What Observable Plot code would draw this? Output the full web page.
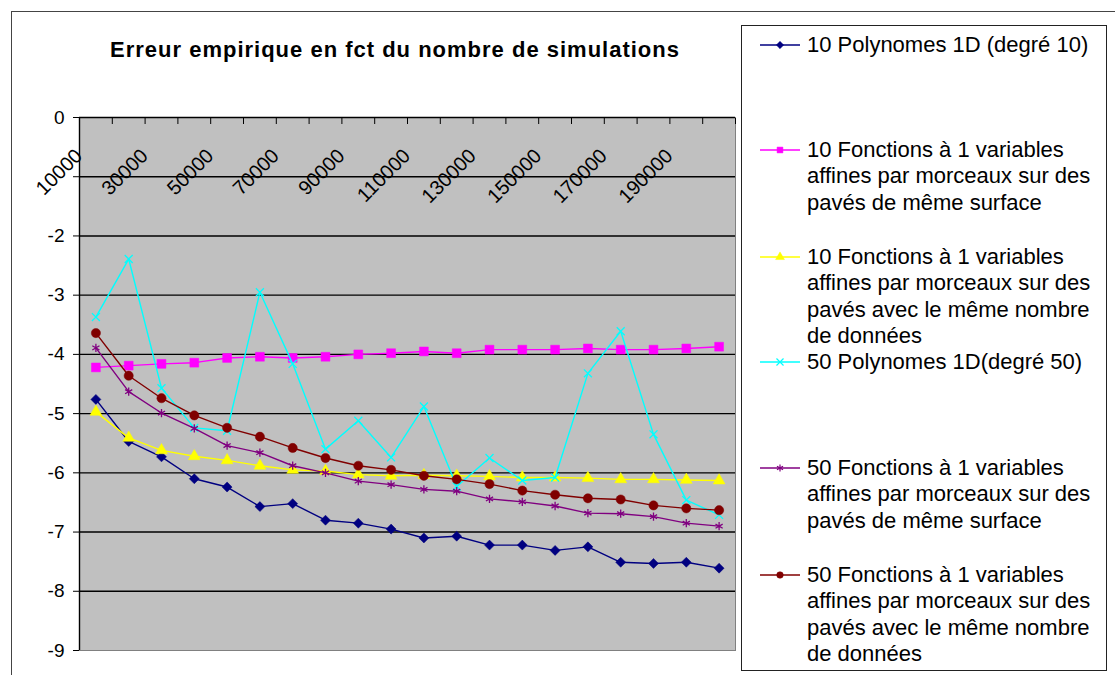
<!DOCTYPE html>
<html><head><meta charset="utf-8">
<script src="https://cdn.jsdelivr.net/npm/d3@7"></script>
<script src="https://cdn.jsdelivr.net/npm/@observablehq/plot@0.6"></script>
<style>
body{margin:0;background:#fff;font-family:"Liberation Sans",Arial,sans-serif;}
#wrap{position:relative;width:1115px;height:675px;overflow:hidden;background:#fff;}
#frame{position:absolute;left:11px;top:11px;width:1200px;height:800px;border:1.5px solid #444;}
#chart{position:absolute;left:0;top:0;}
#title{position:absolute;left:0;width:790px;top:37px;text-align:center;font-weight:bold;font-size:22px;letter-spacing:1px;color:#000;}
#legend{position:absolute;left:741px;top:25px;width:364px;height:644px;border:1.5px solid #222;background:#fff;}
.sw{position:absolute;left:16px;}
.lt{position:absolute;left:65px;font-size:22px;line-height:26.5px;white-space:nowrap;color:#000;}
</style></head>
<body>
<div id="wrap">
  <div id="frame"></div>
  <div id="chart"></div>
  <div id="title">Erreur empirique en fct du nombre de simulations</div>
  <div id="legend"></div>
</div>
<script>
const simulations = [10000, 20000, 30000, 40000, 50000, 60000, 70000, 80000, 90000, 100000,
  110000, 120000, 130000, 140000, 150000, 160000, 170000, 180000, 190000, 200000];
const xTickLabels = [10000, 30000, 50000, 70000, 90000, 110000, 130000, 150000, 170000, 190000];
const yTicks = [0, -1, -2, -3, -4, -5, -6, -7, -8, -9];

const poly10 = [-4.76,-5.47,-5.73,-6.10,-6.24,-6.57,-6.52,-6.80,-6.85,-6.95,-7.10,-7.07,-7.22,-7.22,-7.31,-7.25,-7.51,-7.53,-7.51,-7.61];
const fonc10Surface = [-4.22,-4.19,-4.16,-4.14,-4.06,-4.04,-4.06,-4.04,-4.00,-3.98,-3.95,-3.98,-3.92,-3.92,-3.92,-3.90,-3.92,-3.92,-3.90,-3.87];
const fonc10Donnees = [-4.97,-5.41,-5.62,-5.72,-5.79,-5.88,-5.95,-5.97,-6.03,-6.05,-6.04,-6.05,-6.06,-6.08,-6.08,-6.09,-6.11,-6.11,-6.12,-6.13];
const poly50 = [-3.37,-2.39,-4.57,-5.24,-5.29,-2.95,-4.16,-5.60,-5.12,-5.74,-4.88,-6.23,-5.75,-6.13,-6.08,-4.32,-3.61,-5.35,-6.46,-6.71];
const fonc50Surface = [-3.89,-4.63,-4.99,-5.25,-5.54,-5.66,-5.88,-6.00,-6.14,-6.20,-6.28,-6.31,-6.44,-6.49,-6.56,-6.68,-6.69,-6.74,-6.85,-6.90];
const fonc50Donnees = [-3.64,-4.36,-4.74,-5.03,-5.24,-5.39,-5.58,-5.75,-5.88,-5.95,-6.05,-6.11,-6.19,-6.30,-6.37,-6.43,-6.45,-6.55,-6.60,-6.63];

const seriesNames = [
  "10 Polynomes 1D (degré 10)",
  "10 Fonctions à 1 variables\naffines par morceaux sur des\npavés de même surface",
  "10 Fonctions à 1 variables\naffines par morceaux sur des\npavés avec le même nombre\nde données",
  "50 Polynomes 1D(degré 50)",
  "50 Fonctions à 1 variables\naffines par morceaux sur des\npavés de même surface",
  "50 Fonctions à 1 variables\naffines par morceaux sur des\npavés avec le même nombre\nde données"
];
const seriesValues = [poly10, fonc10Surface, fonc10Donnees, poly50, fonc50Surface, fonc50Donnees];
const seriesColors = ["#000080", "#ff00ff", "#ffff00", "#00ffff", "#800080", "#800000"];
const seriesSymbols = ["diamond2", "square", "triangle", "times", "asterisk", "circle"];
const seriesFilled = [true, true, true, false, false, true];
const seriesR = [4.5, 5.0, 4.4, 3.7, 3.9, 4.6];

const series = seriesNames.map((name, k) => ({
  name, color: seriesColors[k], symbol: seriesSymbols[k], filled: seriesFilled[k], r: seriesR[k],
  data: seriesValues[k].map((v, i) => ({x: simulations[i], y: v}))
}));

const step = simulations[1] - simulations[0];
const boundaries = simulations.map(d => d - step / 2).concat([simulations[simulations.length - 1] + step / 2]);

const marks = [
  Plot.frame({fill: "#c0c0c0", stroke: "#808080"}),
  Plot.gridY(yTicks.filter(d => d < 0 && d > -9), {stroke: "#000", strokeOpacity: 1, strokeWidth: 1.4}),
  Plot.ruleY([0], {stroke: "#000", strokeWidth: 1.4}),
  Plot.ruleX([boundaries[0]], {stroke: "#000", strokeWidth: 1.4}),
  Plot.axisY(yTicks, {label: null, tickSize: 6, tickPadding: 9, fontSize: 19, tickFormat: d => d === -1 ? "" : String(d)}),
  Plot.axisX(boundaries, {label: null, anchor: "top", tickSize: 6, dy: 6, tickFormat: () => ""}),
  Plot.axisX(xTickLabels, {label: null, anchor: "top", tickSize: 0, tickPadding: 0, tickRotate: -45,
    textAnchor: "end", lineAnchor: "middle", dx: -17, dy: 35, fontSize: 20, tickFormat: d => String(d)})
];
for (const s of series) {
  marks.push(Plot.line(s.data, {x: "x", y: "y", stroke: s.color, strokeWidth: 1.4}));
  marks.push(Plot.dot(s.data, {x: "x", y: "y", symbol: s.symbol, r: s.r,
    fill: s.filled ? s.color : "none", stroke: s.color, strokeWidth: s.filled ? 0.5 : 1.3}));
}

const chart = Plot.plot({
  width: 740, height: 675,
  marginLeft: 79, marginRight: 5, marginTop: 117, marginBottom: 25,
  style: {fontFamily: "Liberation Sans, Arial, sans-serif", fontSize: "19px", background: "transparent", color: "#000"},
  x: {type: "linear", domain: [boundaries[0], boundaries[boundaries.length - 1]], label: null},
  y: {domain: [-9, 0], label: null},
  marks
});
document.getElementById("chart").appendChild(chart);

// Legend
const legendTops = [19, 124, 231, 336, 442, 549];
const legend = d3.select("#legend");
const symMap = {diamond2: d3.symbolDiamond2, square: d3.symbolSquare, triangle: d3.symbolTriangle,
  times: d3.symbolTimes, asterisk: d3.symbolAsterisk, circle: d3.symbolCircle};
series.forEach((s, k) => {
  const cy = legendTops[k];
  const sw = legend.append("svg").attr("class", "sw").attr("width", 44).attr("height", 20)
    .style("top", (cy - 10) + "px");
  sw.append("line").attr("x1", 2).attr("x2", 42).attr("y1", 10).attr("y2", 10)
    .attr("stroke", s.color).attr("stroke-width", 1.4);
  sw.append("path").attr("transform", "translate(22,10)")
    .attr("d", d3.symbol(symMap[s.symbol], 34)())
    .attr("fill", s.filled ? s.color : "none").attr("stroke", s.color).attr("stroke-width", s.filled ? 0.5 : 1.2);
  const lines = s.name.split("\n");
  const t = legend.append("div").attr("class", "lt").style("top", (cy - 13.25) + "px");
  lines.forEach(l => t.append("div").text(l));
});
</script>
</body></html>
